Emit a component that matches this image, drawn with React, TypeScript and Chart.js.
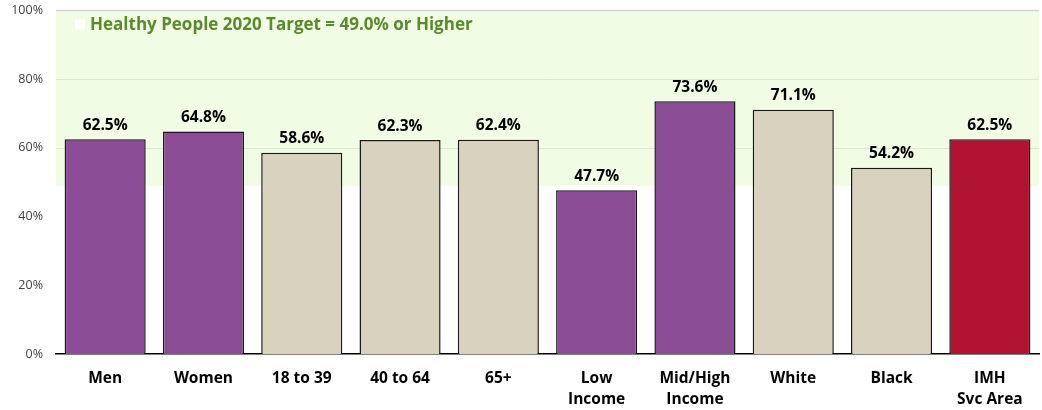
import React, { useEffect, useRef } from "react";
import { Chart, registerables } from "chart.js";

Chart.register(...registerables);

const categories: string[][] = [
  ["Men"],
  ["Women"],
  ["18 to 39"],
  ["40 to 64"],
  ["65+"],
  ["Low", "Income"],
  ["Mid/High", "Income"],
  ["White"],
  ["Black"],
  ["IMH", "Svc Area"],
];
const values: number[] = [62.5, 64.8, 58.6, 62.3, 62.4, 47.7, 73.6, 71.1, 54.2, 62.5];
const barGroups: string[] = ["sub", "sub", "age", "age", "age", "sub", "sub", "age", "age", "total"];
const targetValue = 49.0;
const targetLabel = "Healthy People 2020 Target = 49.0% or Higher";
const yTicks: number[] = [0, 20, 40, 60, 80, 100];

const groupColors: Record<string, string> = {
  sub: "#8b4e96",
  age: "#d8d2bf",
  total: "#b01232",
};

const FONT = "'Open Sans', 'Noto Sans', sans-serif";

const targetPlugin = {
  id: "targetBand",
  beforeDatasetsDraw(chart: any) {
    const { ctx, chartArea, scales } = chart;
    const y = scales.y;
    const top = y.getPixelForValue(100);
    const bottom = y.getPixelForValue(targetValue);
    ctx.save();
    ctx.fillStyle = "#f0fde4";
    ctx.fillRect(chartArea.left, top, chartArea.right - chartArea.left, bottom - top);
    ctx.strokeStyle = "#dde8d0";
    ctx.lineWidth = 1;
    for (const v of yTicks) {
      if (v > targetValue && v < 100) {
        const py = Math.round(y.getPixelForValue(v)) + 0.5;
        ctx.beginPath();
        ctx.moveTo(chartArea.left, py);
        ctx.lineTo(chartArea.right, py);
        ctx.stroke();
      }
    }
    ctx.strokeStyle = "#d4d4d4";
    ctx.lineWidth = 1.5;
    const pt = y.getPixelForValue(100);
    ctx.beginPath();
    ctx.moveTo(chartArea.left, pt);
    ctx.lineTo(chartArea.right, pt);
    ctx.stroke();
    ctx.fillStyle = "#ffffff";
    ctx.fillRect(chartArea.left + 19, pt + 9, 10, 10);
    ctx.fillStyle = "#5b8a2c";
    ctx.font = `bold 17px ${FONT}`;
    ctx.textBaseline = "middle";
    ctx.textAlign = "left";
    ctx.fillText(targetLabel, chartArea.left + 34, pt + 15);
    ctx.restore();
  },
};

const labelPlugin = {
  id: "valueLabels",
  afterDatasetsDraw(chart: any) {
    const { ctx } = chart;
    const meta = chart.getDatasetMeta(0);
    ctx.save();
    ctx.fillStyle = "#000000";
    ctx.font = `bold 15.5px ${FONT}`;
    ctx.textAlign = "center";
    ctx.textBaseline = "bottom";
    meta.data.forEach((bar: any, i: number) => {
      ctx.fillText(values[i].toFixed(1) + "%", bar.x, bar.y - 6);
    });
    ctx.restore();
  },
};

export default function App() {
  const ref = useRef<HTMLCanvasElement | null>(null);

  useEffect(() => {
    if (!ref.current) return;
    const chart = new Chart(ref.current, {
      type: "bar",
      data: {
        labels: categories,
        datasets: [
          {
            data: values,
            backgroundColor: barGroups.map((g) => groupColors[g]),
            borderColor: "#1a1a1a",
            borderWidth: 1.5,
            categoryPercentage: 1,
            barPercentage: 0.825,
          },
        ],
      },
      options: {
        animation: false,
        responsive: false,
        maintainAspectRatio: false,
        layout: { padding: { top: 0, right: 3, left: 0, bottom: 0 } },
        plugins: {
          legend: { display: false },
          tooltip: { enabled: false },
          title: { display: false },
        },
        scales: {
          x: {
            grid: { display: false },
            border: { display: true, color: "#000000", width: 1.5 },
            ticks: {
              color: "#000000",
              font: { family: FONT, size: 15.5, weight: "bold", lineHeight: 1.35 },
              padding: 6,
              maxRotation: 0,
              autoSkip: false,
            },
            afterFit(axis: any) {
              axis.height = 56;
            },
          },
          y: {
            min: 0,
            max: 100,
            grid: { display: false },
            border: { display: false },
            ticks: {
              stepSize: 20,
              color: "#404040",
              font: { family: FONT, size: 12.5 },
              padding: 5,
              callback: (v: any) => v + "%",
            },
            afterFit(axis: any) {
              axis.width = 56;
            },
          },
        },
      },
      plugins: [targetPlugin, labelPlugin],
    });
    return () => chart.destroy();
  }, []);

  return (
    <div style={{ position: "fixed", left: 0, top: -2, width: 1042, height: 412, background: "#fff" }}>
      <canvas ref={ref} width={1042} height={412} style={{ display: "block" }} />
    </div>
  );
}
